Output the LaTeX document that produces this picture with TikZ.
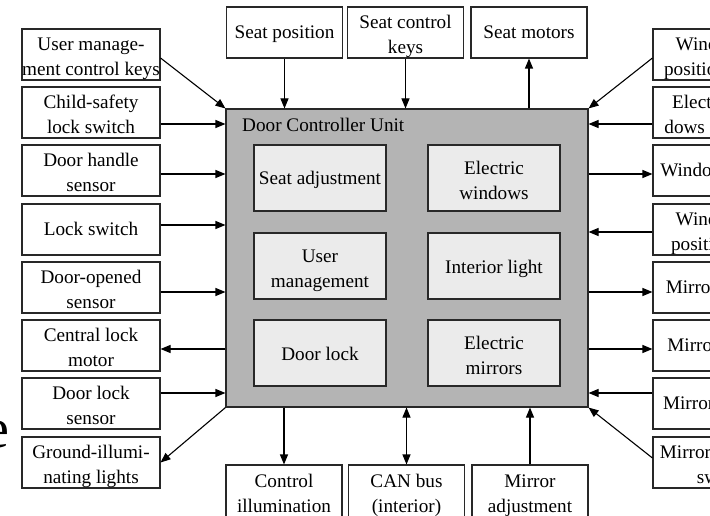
\documentclass[tikz,border=0pt]{standalone}
\usepackage{fontspec}
\setmainfont{Liberation Serif}
\usetikzlibrary{arrows.meta,calc}
\definecolor{unitgray}{RGB}{180,180,180}
\definecolor{subgray}{RGB}{235,235,235}
\definecolor{edge}{RGB}{40,40,40}
% one-line and two-line box texts, placed on measured baselines
\newcommand\oneline[2][-6.2pt]{\raisebox{#1}[0pt][0pt]{#2}}
\newcommand\twoline[3][4.3pt]{\raisebox{#1}[0pt][0pt]{\begin{tabular}[t]{@{}c@{}}#2\\#3\end{tabular}}}
\begin{document}
\begin{tikzpicture}[x=1pt,y=-1pt,
  font=\fontsize{19.2}{25}\selectfont,
  sidebox/.style={draw=edge, line width=1.1pt, fill=white, inner sep=0pt,
    minimum width=138pt, minimum height=51pt},
  topbox/.style={sidebox, minimum width=116pt},
  mainbox/.style={draw=edge, line width=1.1pt, fill=unitgray, inner sep=0pt},
  subbox/.style={draw=edge, line width=1.1pt, fill=subgray, inner sep=0pt,
    minimum width=132pt, minimum height=66pt},
  arr/.style={line width=1.1pt, draw=black, -{Triangle[length=10pt,width=8pt]}},
  arrtwo/.style={line width=1.1pt, draw=black, {Triangle[length=10pt,width=8pt]}-{Triangle[length=10pt,width=8pt]}}
]
\useasboundingbox (0,0) rectangle (710,516);
\fill[white] (0,0) rectangle (710,516);

% large cut-off letter at left
\node[anchor=base east, inner sep=0pt, font=\fontsize{56}{60}\selectfont] (bigE) at (10,447) {e};

% main unit
\node[mainbox, minimum width=362pt, minimum height=298pt] (main) at (407,258) {};
\node[anchor=base west, inner sep=0pt] (title) at (242,132) {Door Controller Unit};
\node[subbox] (s1) at (320,178) {\oneline[-7pt]{Seat adjustment}};
\node[subbox] (s2) at (494,178) {\twoline[3.5pt]{Electric}{windows}};
\node[subbox] (s3) at (320,266) {\twoline[3.5pt]{User}{management}};
\node[subbox] (s4) at (494,266) {\oneline[-7pt]{Interior light}};
\node[subbox] (s5) at (320,353) {\oneline[-7pt]{Door lock}};
\node[subbox] (s6) at (494,353) {\twoline[3.5pt]{Electric}{mirrors}};

% left boxes
\node[sidebox] (l1) at (91,54.5) {\twoline{User manage-}{ment control keys}};
\node[sidebox] (l2) at (91,112.5) {\twoline{Child-safety}{lock switch}};
\node[sidebox] (l3) at (91,170.5) {\twoline{Door handle}{sensor}};
\node[sidebox] (l4) at (91,229.5) {\oneline{Lock switch}};
\node[sidebox] (l5) at (91,287.5) {\twoline{Door-opened}{sensor}};
\node[sidebox] (l6) at (91,345.5) {\twoline{Central lock}{motor}};
\node[sidebox] (l7) at (91,403.5) {\twoline{Door lock}{sensor}};
\node[sidebox] (l8) at (91,462.5) {\twoline{Ground-illumi-}{nating lights}};

% right boxes (cut off by the picture edge)
\node[sidebox] (r1) at (722,54.5) {\twoline{Window lift}{position sensor}};
\node[sidebox] (r2) at (722,112.5) {\twoline{Electric win-}{dows rear keys}};
\node[sidebox] (r3) at (722,170.5) {\oneline{Window motors}};
\node[sidebox] (r4) at (722,229.5) {\twoline{Window lift}{position keys}};
\node[sidebox] (r5) at (722,287.5) {\oneline{Mirror heating}};
\node[sidebox] (r6) at (722,345.5) {\oneline{Mirror motors}};
\node[sidebox] (r7) at (722,403.5) {\oneline{Mirror position}};
\node[sidebox] (r8) at (722,462.5) {\twoline{Mirror selection}{switch}};

% top boxes
\node[topbox] (t1) at (284.5,32.5) {\oneline{Seat position}};
\node[topbox] (t2) at (405.5,32.5) {\twoline{Seat control}{keys}};
\node[topbox] (t3) at (529,32.5) {\oneline{Seat motors}};

% bottom boxes
\node[topbox, minimum height=54pt] (b1) at (284,492) {\twoline{Control}{illumination}};
\node[topbox, minimum height=54pt] (b2) at (406.5,492) {\twoline{CAN bus}{(interior)}};
\node[topbox, minimum height=54pt] (b3) at (530,492) {\twoline{Mirror}{adjustment}};

% left connectors
\draw[arr] (l1.east |- 0,58) -- (main.north west);
\draw[arr] (l2.east |- 0,124) -- (main.west |- 0,124);
\draw[arr] (l3.east |- 0,174) -- (main.west |- 0,174);
\draw[arr] (l4.east |- 0,225) -- (main.west |- 0,225);
\draw[arr] (l5.east |- 0,292) -- (main.west |- 0,292);
\draw[arr] (main.west |- 0,349) -- (l6.east |- 0,349);
\draw[arr] (l7.east |- 0,393) -- (main.west |- 0,393);
\draw[arr] (main.south west) -- (l8.east);

% right connectors
\draw[arr] (r1.west |- 0,58) -- (main.north east);
\draw[arr] (r2.west |- 0,124) -- (main.east |- 0,124);
\draw[arr] (main.east |- 0,174) -- (r3.west |- 0,174);
\draw[arr] (r4.west |- 0,232) -- (main.east |- 0,232);
\draw[arr] (main.east |- 0,292) -- (r5.west |- 0,292);
\draw[arr] (main.east |- 0,349) -- (r6.west |- 0,349);
\draw[arr] (r7.west |- 0,393) -- (main.east |- 0,393);
\draw[arr] (r8.west |- 0,458) -- (main.south east);

% top connectors
\draw[arr] (t1.south) -- (t1.south |- main.north);
\draw[arr] (t2.south) -- (t2.south |- main.north);
\draw[arr] (t3.south |- main.north) -- (t3.south);

% bottom connectors
\draw[arr] (b1.north |- main.south) -- (b1.north);
\draw[arrtwo] (b2.north |- main.south) -- (b2.north);
\draw[arr] (b3.north) -- (b3.north |- main.south);
\end{tikzpicture}
\end{document}
